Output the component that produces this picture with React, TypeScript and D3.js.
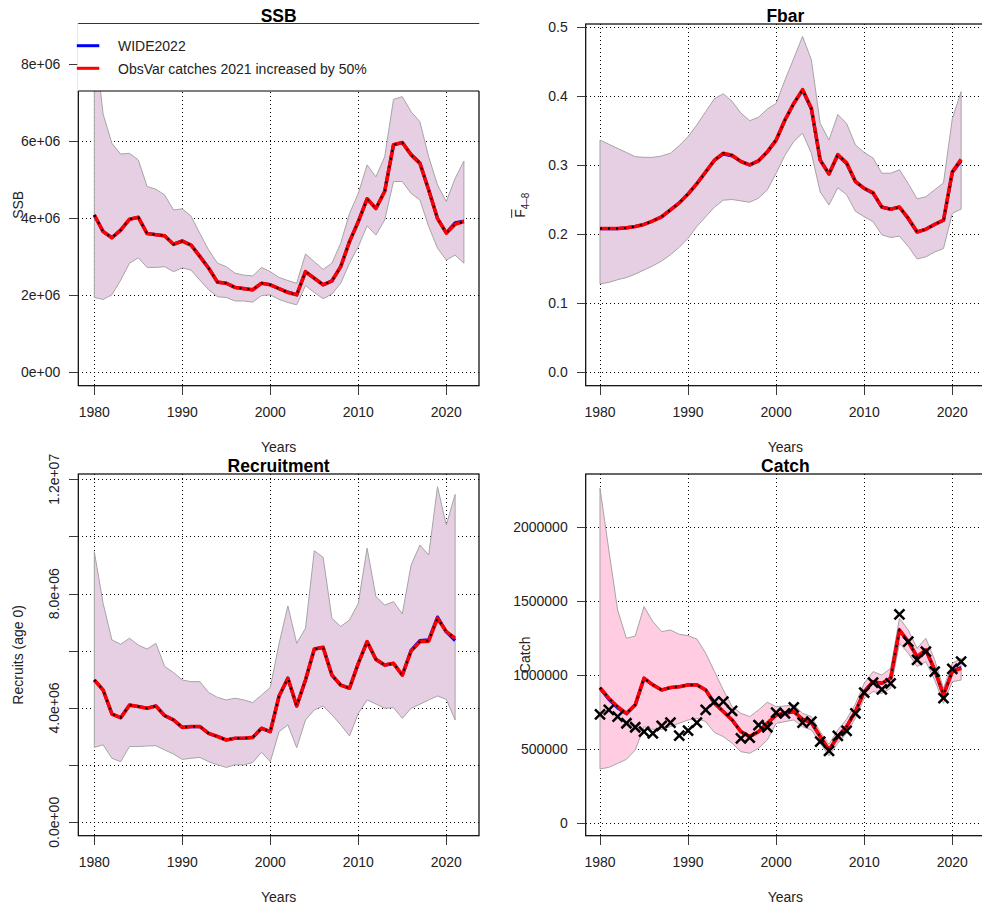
import React from "react";
import * as d3 from "d3";

// ---------- DATA ----------
const yearsSSB = d3.range(1980, 2023); // 1980..2022
const yearsOther = d3.range(1980, 2022); // 1980..2021

// SSB (millions)
const ssbEst = [4.08, 3.65, 3.49, 3.69, 3.97, 4.02, 3.60, 3.57, 3.54, 3.32, 3.40, 3.30, 3.00, 2.70, 2.34, 2.31, 2.20, 2.17, 2.14, 2.31, 2.27, 2.17, 2.07, 2.01, 2.61, 2.44, 2.27, 2.37, 2.74, 3.39, 3.91, 4.50, 4.25, 4.69, 5.90, 5.96, 5.64, 5.42, 4.73, 3.99, 3.61, 3.84, 3.91];
const ssbWide = [4.08, 3.65, 3.49, 3.69, 3.97, 4.02, 3.60, 3.57, 3.54, 3.32, 3.41, 3.30, 3.01, 2.70, 2.34, 2.31, 2.20, 2.17, 2.14, 2.31, 2.27, 2.17, 2.08, 2.01, 2.61, 2.44, 2.27, 2.37, 2.74, 3.39, 3.91, 4.50, 4.25, 4.70, 5.90, 5.96, 5.65, 5.43, 4.73, 3.99, 3.62, 3.88, 3.92];
const ssbHi = [8.7, 6.7, 5.94, 5.66, 5.68, 5.51, 4.82, 4.75, 4.60, 4.21, 4.24, 4.05, 3.60, 3.17, 2.83, 2.74, 2.57, 2.52, 2.50, 2.72, 2.61, 2.46, 2.38, 2.31, 3.07, 2.87, 2.67, 2.83, 3.35, 4.12, 4.64, 5.38, 5.07, 5.59, 7.08, 7.15, 6.76, 6.50, 5.59, 4.86, 4.43, 5.03, 5.48];
const ssbLo = [1.94, 1.89, 2.01, 2.39, 2.83, 2.97, 2.72, 2.72, 2.74, 2.61, 2.71, 2.65, 2.39, 2.14, 1.96, 1.94, 1.85, 1.85, 1.82, 1.99, 2.01, 1.89, 1.81, 1.75, 2.25, 2.07, 1.91, 2.03, 2.31, 2.83, 3.26, 3.80, 3.56, 3.95, 4.95, 4.95, 4.64, 4.47, 3.78, 3.22, 2.91, 3.04, 2.83];

// Fbar
const fEst = [0.208, 0.208, 0.208, 0.209, 0.211, 0.214, 0.219, 0.225, 0.235, 0.245, 0.258, 0.273, 0.290, 0.307, 0.317, 0.314, 0.305, 0.300, 0.306, 0.319, 0.336, 0.365, 0.389, 0.409, 0.382, 0.307, 0.287, 0.315, 0.303, 0.276, 0.266, 0.260, 0.239, 0.236, 0.239, 0.223, 0.203, 0.207, 0.214, 0.220, 0.290, 0.308];
const fWide = [0.208, 0.208, 0.208, 0.209, 0.211, 0.214, 0.219, 0.225, 0.235, 0.245, 0.258, 0.273, 0.290, 0.307, 0.316, 0.313, 0.305, 0.300, 0.306, 0.319, 0.336, 0.365, 0.389, 0.408, 0.381, 0.307, 0.287, 0.314, 0.302, 0.276, 0.266, 0.259, 0.239, 0.236, 0.239, 0.222, 0.203, 0.207, 0.214, 0.220, 0.289, 0.306];
const fHi = [0.336, 0.330, 0.324, 0.318, 0.312, 0.311, 0.311, 0.313, 0.317, 0.328, 0.341, 0.358, 0.377, 0.396, 0.403, 0.392, 0.375, 0.364, 0.369, 0.381, 0.389, 0.423, 0.454, 0.486, 0.452, 0.360, 0.336, 0.373, 0.360, 0.329, 0.318, 0.310, 0.288, 0.288, 0.293, 0.273, 0.251, 0.254, 0.264, 0.274, 0.367, 0.406];
const fLo = [0.128, 0.130, 0.134, 0.137, 0.142, 0.148, 0.154, 0.161, 0.170, 0.181, 0.194, 0.211, 0.225, 0.239, 0.249, 0.250, 0.248, 0.246, 0.252, 0.264, 0.288, 0.314, 0.334, 0.346, 0.317, 0.261, 0.242, 0.267, 0.257, 0.233, 0.225, 0.218, 0.199, 0.195, 0.197, 0.182, 0.164, 0.167, 0.174, 0.179, 0.230, 0.236];

// Recruitment (millions)
const rEst = [4.98, 4.63, 3.79, 3.66, 4.10, 4.05, 3.99, 4.07, 3.73, 3.58, 3.32, 3.35, 3.35, 3.11, 3.00, 2.88, 2.94, 2.94, 2.97, 3.29, 3.17, 4.42, 5.04, 4.07, 4.98, 6.06, 6.12, 5.15, 4.80, 4.69, 5.56, 6.32, 5.70, 5.50, 5.56, 5.15, 5.99, 6.32, 6.34, 7.14, 6.67, 6.44];
const rWide = [4.98, 4.63, 3.79, 3.66, 4.10, 4.05, 3.99, 4.07, 3.73, 3.58, 3.32, 3.35, 3.35, 3.11, 3.00, 2.88, 2.94, 2.94, 2.97, 3.29, 3.17, 4.42, 5.04, 4.07, 4.98, 6.06, 6.12, 5.15, 4.80, 4.69, 5.56, 6.32, 5.70, 5.50, 5.56, 5.15, 6.02, 6.36, 6.38, 7.18, 6.66, 6.36];
const rHi = [9.47, 7.66, 6.38, 6.23, 6.44, 6.20, 6.06, 6.26, 5.45, 5.24, 4.98, 4.92, 4.92, 4.54, 4.37, 4.28, 4.34, 4.28, 4.19, 4.45, 4.72, 6.26, 7.57, 6.26, 6.79, 9.50, 9.27, 7.14, 6.85, 7.08, 7.66, 9.59, 7.90, 7.60, 7.72, 7.29, 9.00, 9.70, 9.35, 11.74, 10.40, 11.47];
const rLo = [2.62, 2.71, 2.24, 2.12, 2.65, 2.65, 2.67, 2.68, 2.53, 2.39, 2.20, 2.24, 2.27, 2.12, 2.01, 1.92, 2.01, 2.01, 2.09, 2.45, 2.12, 3.17, 3.41, 2.61, 3.58, 3.93, 4.07, 3.76, 3.41, 3.02, 3.81, 4.28, 4.14, 3.99, 4.01, 3.64, 3.99, 4.13, 4.28, 4.42, 4.30, 3.58];

// Catch (thousands)
const cEst = [917, 845, 788, 743, 800, 980, 935, 901, 917, 923, 935, 935, 901, 811, 755, 698, 619, 586, 619, 676, 732, 743, 755, 703, 680, 586, 495, 586, 653, 755, 890, 957, 946, 980, 1306, 1227, 1126, 1171, 1036, 867, 1025, 1047];
const cWide = [912, 838, 780, 740, 800, 980, 935, 901, 917, 923, 935, 935, 901, 811, 755, 698, 619, 586, 619, 676, 732, 743, 755, 703, 680, 586, 495, 586, 653, 755, 890, 957, 946, 980, 1306, 1227, 1126, 1171, 1036, 867, 1028, 1052];
const cHi = [2264, 1847, 1441, 1250, 1266, 1464, 1363, 1295, 1306, 1277, 1268, 1245, 1149, 1025, 901, 788, 743, 721, 766, 818, 788, 793, 800, 743, 721, 619, 534, 631, 703, 806, 946, 1025, 1002, 1047, 1385, 1306, 1182, 1250, 1104, 912, 1081, 1115];
const cLo = [367, 378, 405, 432, 495, 653, 635, 635, 653, 676, 698, 709, 687, 613, 586, 541, 484, 473, 507, 563, 676, 687, 698, 653, 631, 541, 455, 541, 608, 709, 845, 890, 878, 912, 1216, 1149, 1059, 1092, 968, 811, 957, 968];
const cObs = [736, 766, 721, 676, 649, 619, 608, 658, 680, 592, 626, 680, 766, 822, 822, 759, 574, 579, 664, 649, 748, 743, 784, 680, 687, 552, 489, 590, 624, 743, 883, 950, 905, 946, 1412, 1227, 1104, 1160, 1025, 845, 1043, 1092];

// ticks
const xTicks = [1980, 1990, 2000, 2010, 2020];
const ssbTicks = [0, 2, 4, 6, 8];
const ssbTickLabels = ["0e+00", "2e+06", "4e+06", "6e+06", "8e+06"];
const fTicks = [0, 0.1, 0.2, 0.3, 0.4, 0.5];
const fTickLabels = ["0.0", "0.1", "0.2", "0.3", "0.4", "0.5"];
const rTicks = [0, 2, 4, 6, 8, 10, 12];
const rTickLabels = ["0.0e+00", "", "4.0e+06", "", "8.0e+06", "", "1.2e+07"];
const cTicks = [0, 500, 1000, 1500, 2000];
const cTickLabels = ["0", "500000", "1000000", "1500000", "2000000"];

const legendLabels = ["WIDE2022", "ObsVar catches 2021 increased by 50%"];

const FONT = "'Liberation Sans', Arial, Helvetica, sans-serif";
const PURPLE = "#E6CFE3";
const PINK = "#FFCCE1";

type Box = { l: number; r: number; t: number; b: number };

function Panel(props: any) {
  const { id, box, x0, x1, yDom, yRng, yTicks, yTickLabels, rotYLabels, title, ylab, years, est, wide, hi, lo, fill, obs, legend } = props;
  const b: Box = box;
  const x = d3.scaleLinear().domain([1980, 2020]).range([x0, x1]);
  const y = d3.scaleLinear().domain(yDom).range(yRng);
  const pts = years.map((yr: number, i: number) => ({ yr, est: est[i], wide: wide[i], hi: hi[i], lo: lo[i], obs: obs ? obs[i] : null }));
  const area = d3.area<any>().x((d) => x(d.yr)).y0((d) => y(d.lo)).y1((d) => y(d.hi));
  const lineE = d3.line<any>().x((d) => x(d.yr)).y((d) => y(d.est));
  const lineW = d3.line<any>().x((d) => x(d.yr)).y((d) => y(d.wide));
  const cx = (b.l + b.r) / 2;
  const cy = (b.t + b.b) / 2;
  const tickCol = "#3a3a3a";
  const txtCol = "#222";
  const snap = (v: number) => Math.round(v) + 0.5;
  return (
    <g>
      <defs>
        <clipPath id={"clip-" + id}>
          <rect x={b.l} y={b.t} width={b.r - b.l} height={b.b - b.t} />
        </clipPath>
      </defs>
      <g clipPath={`url(#clip-${id})`}>
        {xTicks.map((t) => (
          <line key={"gx" + t} x1={snap(x(t))} x2={snap(x(t))} y1={b.t} y2={b.b} stroke="#000" strokeWidth={1} strokeDasharray="1,3" shapeRendering="crispEdges" />
        ))}
        {yTicks.map((t: number) => (
          <line key={"gy" + t} x1={b.l} x2={b.r} y1={snap(y(t))} y2={snap(y(t))} stroke="#000" strokeWidth={1} strokeDasharray="1,3" shapeRendering="crispEdges" />
        ))}
        <path d={area(pts) || ""} fill={fill} stroke="#a5a5a5" strokeWidth={1} />
        <path d={lineW(pts) || ""} fill="none" stroke="#0000ff" strokeWidth={3.2} strokeLinejoin="round" />
        <path d={lineE(pts) || ""} fill="none" stroke="#ff0000" strokeWidth={3.6} strokeLinejoin="round" />
        <path d={lineE(pts) || ""} fill="none" stroke="#000" strokeWidth={2} strokeDasharray="2,6" />
        {obs &&
          pts.map((d: any) => {
            const px = x(d.yr);
            const py = y(d.obs);
            const s = 5;
            return (
              <g key={"o" + d.yr} stroke="#000" strokeWidth={2.5}>
                <line x1={px - s} y1={py - s} x2={px + s} y2={py + s} />
                <line x1={px - s} y1={py + s} x2={px + s} y2={py - s} />
              </g>
            );
          })}
      </g>
      <rect x={b.l} y={b.t} width={b.r - b.l} height={b.b - b.t} fill="none" stroke="#000" strokeWidth={1.2} />
      {/* x axis */}
      {xTicks.map((t) => (
        <g key={"xt" + t}>
          <line x1={snap(x(t))} x2={snap(x(t))} y1={b.b} y2={b.b + 9} stroke={tickCol} strokeWidth={1.2} shapeRendering="crispEdges" />
          <text x={x(t)} y={b.b + 31} textAnchor="middle" fontSize={14} fontFamily={FONT} fill={txtCol}>
            {t}
          </text>
        </g>
      ))}
      {/* y axis */}
      {yTicks.map((t: number, i: number) => (
        <g key={"yt" + t}>
          <line x1={b.l - 9} x2={b.l} y1={snap(y(t))} y2={snap(y(t))} stroke={tickCol} strokeWidth={1.2} shapeRendering="crispEdges" />
          {rotYLabels ? (
            <text transform={`translate(${b.l - 19.5},${y(t)}) rotate(-90)`} textAnchor="middle" fontSize={14} fontFamily={FONT} fill={txtCol}>
              {yTickLabels[i]}
            </text>
          ) : (
            <text x={b.l - 18} y={y(t)} dy="0.36em" textAnchor="end" fontSize={14} fontFamily={FONT} fill={txtCol}>
              {yTickLabels[i]}
            </text>
          )}
        </g>
      ))}
      <text x={cx} y={b.b + 66} textAnchor="middle" fontSize={14} fontFamily={FONT} fill={txtCol}>
        Years
      </text>
      {ylab === "FBAR" ? (
        <g transform={`translate(${b.l - 61},${cy}) rotate(-90)`}>
          <text x={-13} y={0} fontSize={14} fontFamily={FONT} fill={txtCol}>
            F
            <tspan fontSize={10} dy={4}>
              4–8
            </tspan>
          </text>
          <line x1={-13} x2={-4.5} y1={-13} y2={-13} stroke={txtCol} strokeWidth={1} />
        </g>
      ) : (
        <text transform={`translate(${b.l - 55.5},${cy}) rotate(-90)`} textAnchor="middle" fontSize={14} fontFamily={FONT} fill={txtCol}>
          {ylab}
        </text>
      )}
      {legend && (
        <g>
          <rect x={b.l - 1} y={b.t - 0.5} width={b.r - b.l + 2} height={91 - b.t + 0.5} fill="#fff" />
          <line x1={b.l} x2={b.r} y1={b.t - 0.5} y2={b.t - 0.5} stroke="#333" strokeWidth={1.2} />
          <line x1={b.l} x2={b.r} y1={91} y2={91} stroke="#000" strokeWidth={1.2} />
          {legendLabels.map((lab, i) => (
            <g key={lab}>
              <line x1={b.l - 1.5} x2={b.l + 21} y1={45.7 + i * 22.6} y2={45.7 + i * 22.6} stroke={i === 0 ? "#0000ff" : "#ff0000"} strokeWidth={3} />
              <text x={118} y={51 + i * 22.6} fontSize={14} fontFamily={FONT} fill={txtCol}>
                {lab}
              </text>
            </g>
          ))}
        </g>
      )}
      <text x={cx} y={b.t - 1.8} textAnchor="middle" fontSize={17.5} fontWeight="bold" fontFamily={FONT} fill="#000">
        {title}
      </text>
    </g>
  );
}

export default function App() {
  return (
    <svg width={982} height={911} style={{ position: "absolute", left: 0, top: 0, background: "#fff" }}>
      <rect x={0} y={0} width={982} height={911} fill="#fff" />
      <Panel
        id="ssb"
        box={{ l: 78.3, r: 479, t: 24, b: 385.7 }}
        x0={94.3}
        x1={446.3}
        yDom={[0, 6]}
        yRng={[372.3, 141]}
        yTicks={ssbTicks}
        yTickLabels={ssbTickLabels}
        title="SSB"
        ylab="SSB"
        years={yearsSSB}
        est={ssbEst}
        wide={ssbWide}
        hi={ssbHi}
        lo={ssbLo}
        fill={PURPLE}
        legend
      />
      <Panel
        id="fbar"
        box={{ l: 585.7, r: 985, t: 24, b: 385.7 }}
        x0={600}
        x1={952.3}
        yDom={[0, 0.5]}
        yRng={[372.3, 26.7]}
        yTicks={fTicks}
        yTickLabels={fTickLabels}
        title="Fbar"
        ylab="FBAR"
        years={yearsOther}
        est={fEst}
        wide={fWide}
        hi={fHi}
        lo={fLo}
        fill={PURPLE}
      />
      <Panel
        id="rec"
        box={{ l: 78.3, r: 479, t: 474, b: 835.7 }}
        x0={94.3}
        x1={446.3}
        yDom={[0, 12]}
        yRng={[822.3, 479.3]}
        yTicks={rTicks}
        yTickLabels={rTickLabels}
        rotYLabels
        title="Recruitment"
        ylab="Recruits (age 0)"
        years={yearsOther}
        est={rEst}
        wide={rWide}
        hi={rHi}
        lo={rLo}
        fill={PURPLE}
      />
      <Panel
        id="catch"
        box={{ l: 585.7, r: 985, t: 474, b: 835.7 }}
        x0={600}
        x1={952.3}
        yDom={[0, 2000]}
        yRng={[823.3, 527.3]}
        yTicks={cTicks}
        yTickLabels={cTickLabels}
        title="Catch"
        ylab="Catch"
        years={yearsOther}
        est={cEst}
        wide={cWide}
        hi={cHi}
        lo={cLo}
        fill={PINK}
        obs={cObs}
      />
    </svg>
  );
}
